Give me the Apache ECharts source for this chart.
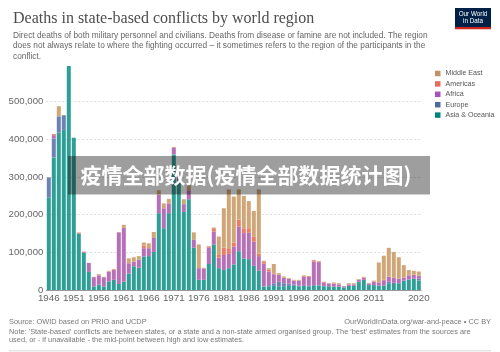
<!DOCTYPE html>
<html>
<head>
<meta charset="utf-8">
<script src="https://cdn.jsdelivr.net/npm/echarts@6/dist/echarts.min.js"></script>
<style>
  html, body { margin: 0; padding: 0; background: #fff; }
  #chart { width: 500px; height: 352px; }
</style>
</head>
<body>
<div id="chart"></div>
<script>
// years on the category axis
const years = [];
for (let y = 1946; y <= 2020; y++) years.push(String(y));

// deaths, in thousands
const asiaOceania = [246, 352, 418, 425, 595, 404, 150, 99, 48, 9, 14, 9, 23, 27, 16, 22, 44, 63, 59, 89,
  90, 101, 204, 164, 204, 360, 292, 207, 241, 112, 27, 27, 69, 121, 58, 53, 58, 68, 103, 84,
  82, 64, 51, 9, 10, 11, 10, 10, 11, 11, 10, 11, 10, 11, 12, 10, 10, 9, 9, 7,
  11, 11, 21, 27, 13, 13, 12, 12, 18, 16, 18, 24, 28, 30, 25];
const europe = [53, 50, 43, 39, 0, 0, 0, 0, 0, 0, 0, 0, 0, 0, 0, 0, 0, 0, 0, 0,
  0, 0, 0, 0, 0, 0, 0, 0, 0, 0, 0, 0, 0, 0, 0, 0, 0, 0, 0, 0,
  0, 0, 0, 1, 3, 7, 12, 8, 6, 4, 2, 0, 1, 2, 1, 1, 0, 0, 0, 0,
  0, 0, 1, 0, 0, 0, 0, 0, 4, 3, 0, 1, 0, 0, 5];
const africa = [0, 9, 0, 0, 0, 0, 0, 2, 24, 25, 25, 25, 25, 26, 137, 143, 27, 12, 22, 22,
  21, 37, 49, 53, 26, 17, 14, 21, 24, 21, 31, 30, 43, 34, 28, 40, 38, 47, 65, 67,
  70, 64, 39, 60, 36, 24, 18, 14, 13, 10, 13, 25, 24, 63, 61, 8, 7, 8, 6, 3,
  4, 4, 5, 5, 4, 9, 8, 14, 13, 14, 12, 8, 11, 10, 8];
const americas = [0, 3, 0, 0, 0, 0, 2, 1, 0, 1, 0, 0, 1, 2, 0, 0, 0, 0, 0, 7,
  0, 0, 0, 0, 0, 2, 0, 0, 0, 0, 0, 0, 4, 9, 7, 20, 15, 11, 19, 13,
  12, 13, 7, 5, 5, 2, 1, 1, 0, 0, 0, 2, 2, 3, 2, 2, 1, 0, 0, 0,
  0, 0, 0, 1, 0, 0, 1, 1, 1, 0, 0, 0, 1, 1, 0];
const middleEast = [0, 0, 27, 0, 0, 0, 1, 0, 0, 0, 3, 1, 2, 0, 1, 8, 13, 12, 9, 8,
  13, 16, 12, 13, 12, 0, 5, 13, 14, 20, 63, 2, 1, 2, 49, 104, 156, 122, 80, 86,
  72, 69, 170, 3, 4, 25, 4, 3, 2, 2, 2, 1, 0, 1, 1, 1, 0, 3, 3, 1,
  3, 3, 2, 2, 2, 3, 52, 64, 76, 68, 57, 33, 13, 10, 11];

const yTicks = [0, 100000, 200000, 300000, 400000, 500000];

const regions = [
  { name: 'Asia & Oceania', data: asiaOceania, bar: '#2f9f96', key: '#00847e' },
  { name: 'Europe', data: europe, bar: '#6c82b3', key: '#4c6a9c' },
  { name: 'Africa', data: africa, bar: '#b670b6', key: '#a652ba' },
  { name: 'Americas', data: americas, bar: '#e97d68', key: '#e56e5a' },
  { name: 'Middle East', data: middleEast, bar: '#cfa677', key: '#c09365' }
];

const showYear = (i, v) => {
  const y = Number(v);
  return y === 2020 || ((y - 1946) % 5 === 0 && y !== 2016);
};

const chart = echarts.init(document.getElementById('chart'));

const option = {
  animation: false,
  textStyle: { fontFamily: 'Liberation Sans, Arial, sans-serif' },
  title: {
    left: 8,
    top: 6,
    text: 'Deaths in state-based conflicts by world region',
    textStyle: { fontFamily: 'Liberation Serif, serif', fontSize: 16, fontWeight: 'normal', color: '#4d4d4d' },
    subtext: 'Direct deaths of both military personnel and civilians. Deaths from disease or famine are not included. The region\n' +
      'does not always relate to where the fighting occurred \u2013 it sometimes refers to the region of the participants in the\n' +
      'conflict.',
    subtextStyle: { fontSize: 8.3, color: '#666', lineHeight: 10.5 },
    itemGap: 3
  },
  legend: {
    orient: 'vertical',
    left: 430,
    top: 64,
    icon: 'rect',
    itemWidth: 5.5,
    itemHeight: 5.5,
    itemGap: 1.4,
    selectedMode: false,
    textStyle: { fontSize: 7.1, color: '#555', lineHeight: 9 },
    data: regions.slice().reverse().map(r => ({ name: r.name, itemStyle: { color: r.key } }))
  },
  grid: { left: 46.3, right: 78.7, top: 64, bottom: 62 },
  xAxis: {
    type: 'category',
    data: years,
    axisLine: { lineStyle: { color: '#999' } },
    axisTick: { alignWithLabel: true, interval: showYear, length: 3, lineStyle: { color: '#999' } },
    axisLabel: { interval: showYear, fontSize: 9.8, color: '#666', margin: 3 }
  },
  yAxis: {
    type: 'value',
    min: 0,
    max: 600000,
    interval: 100000,
    axisLine: { show: false },
    axisTick: { show: false },
    axisLabel: {
      showMaxLabel: false,
      fontSize: 9.6,
      color: '#666',
      margin: 3,
      formatter: v => yTicks.includes(v) ? v.toLocaleString('en-US') : ''
    },
    splitLine: { showMaxLine: false, lineStyle: { color: '#ddd', type: [2, 2] } }
  },
  series: regions.map(r => ({
    name: r.name,
    type: 'bar',
    stack: 'deaths',
    barCategoryGap: '20%',
    itemStyle: { color: r.bar },
    data: r.data.map(v => v * 1000)
  })),
  graphic: [
    {
      type: 'group', left: 455, top: 8, children: [
        { type: 'rect', shape: { x: 0, y: 0, width: 36, height: 21 }, style: { fill: '#002147' } },
        { type: 'rect', shape: { x: 0, y: 19, width: 36, height: 2.2 }, style: { fill: '#ce261e' } },
        { type: 'text', style: { x: 18, y: 3, text: 'Our World\nin Data', fill: '#fff', font: '6.3px Liberation Sans', align: 'center', lineHeight: 7 } }
      ]
    },
    { type: 'text', style: { x: 9, y: 318, text: 'Source: OWID based on PRIO and UCDP', fill: '#777', font: '7.4px Liberation Sans' } },
    { type: 'text', style: { x: 491, y: 318, text: 'OurWorldInData.org/war-and-peace \u2022 CC BY', fill: '#777', font: '7.4px Liberation Sans', align: 'right' } },
    {
      type: 'text', style: {
        x: 9, y: 328, fill: '#777', font: '7.4px Liberation Sans', lineHeight: 8,
        text: 'Note: \'State-based\' conflicts are between states, or a state and a non-state armed organised group. The \'best\' estimates from the sources are\n' +
          'used, or - if unavailable - the mid-point between high and low estimates.'
      }
    },
    { type: 'rect', shape: { x: 9, y: 350.5, width: 482, height: 0.8 }, style: { fill: '#ccc' } },
    { type: 'rect', z: 100, shape: { x: 68, y: 156, width: 362, height: 38.5 }, style: { fill: 'rgba(0,0,0,0.38)' } },
    {
      type: 'text', z: 101, style: {
        x: 246, y: 175, text: '疫情全部数据(疫情全部数据统计图)', fill: '#fff',
        font: 'bold 21px "Noto Sans CJK SC"', align: 'center', verticalAlign: 'middle'
      }
    }
  ]
};

chart.setOption(option);
</script>
</body>
</html>
